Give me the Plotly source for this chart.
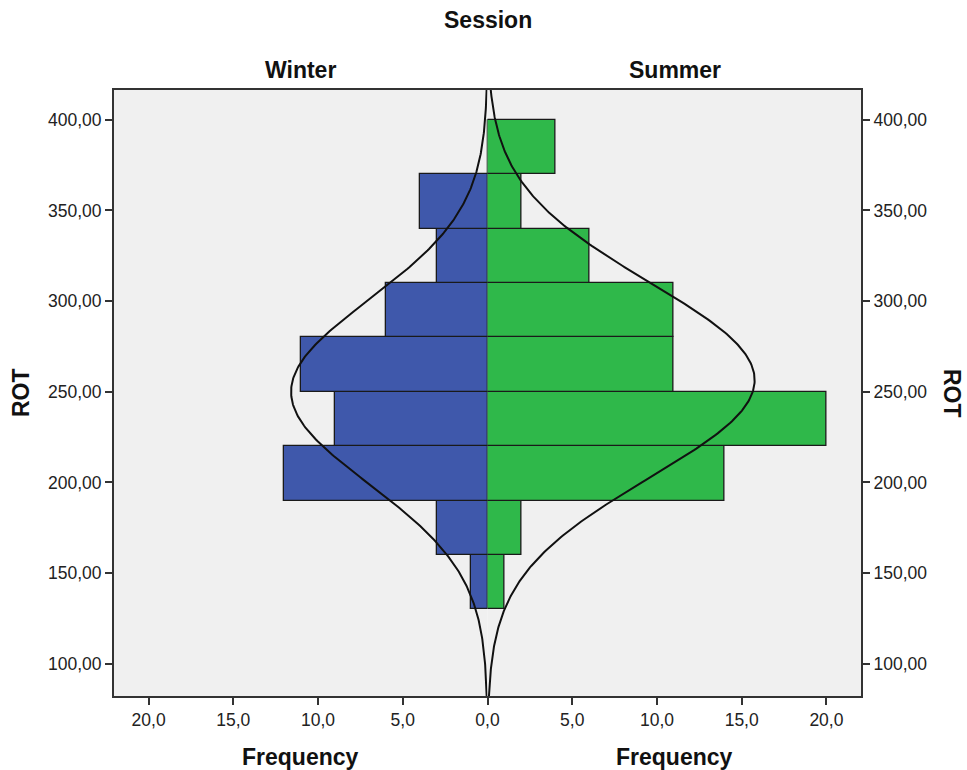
import numpy as np
import plotly.graph_objects as go

# ---- data ----
bin_lower = [130, 160, 190, 220, 250, 280, 310, 340, 370]
bin_width = 30
winter_counts = [1, 3, 12, 9, 11, 6, 3, 4, 0]
summer_counts = [1, 2, 14, 20, 11, 11, 6, 2, 4]
winter_mean, winter_sd = 250.0, 50.6
summer_mean, summer_sd = 256.5, 53.9
y_ticks = [100, 150, 200, 250, 300, 350, 400]
x_ticks_left = [5, 10, 15, 20]
x_ticks_right = [0, 5, 10, 15, 20]

Y_RANGE = [81.7, 417.0]
X_MAX = 22.1

centers = [b + bin_width / 2 for b in bin_lower]
n_w = sum(winter_counts)
n_s = sum(summer_counts)
yy = np.linspace(Y_RANGE[0], Y_RANGE[1], 400)


def normal_curve(mean, sd, n):
    return n * bin_width / (sd * np.sqrt(2 * np.pi)) * np.exp(-0.5 * ((yy - mean) / sd) ** 2)


BLUE = "#3f58ab"
GREEN = "#2fb84a"
EDGE = "#1a1a1a"

fig = go.Figure()
fig.add_trace(go.Bar(x=winter_counts, y=centers, width=bin_width, orientation="h",
                     marker=dict(color=BLUE, line=dict(color=EDGE, width=1.3)),
                     xaxis="x", yaxis="y", showlegend=False))
fig.add_trace(go.Bar(x=summer_counts, y=centers, width=bin_width, orientation="h",
                     marker=dict(color=GREEN, line=dict(color=EDGE, width=1.3)),
                     xaxis="x2", yaxis="y2", showlegend=False))
fig.add_trace(go.Scatter(x=normal_curve(winter_mean, winter_sd, n_w), y=yy, mode="lines",
                         line=dict(color="#111111", width=2), xaxis="x", yaxis="y",
                         showlegend=False))
fig.add_trace(go.Scatter(x=normal_curve(summer_mean, summer_sd, n_s), y=yy, mode="lines",
                         line=dict(color="#111111", width=2), xaxis="x2", yaxis="y2",
                         showlegend=False))

tick_font = dict(family="Liberation Sans, Arial", size=17.5, color="#222222")
title_font = dict(family="Liberation Sans, Arial", size=23, color="#111111")

axis_common = dict(showgrid=False, zeroline=False, ticks="outside", ticklen=7,
                   tickcolor="#333333", tickwidth=1.5, tickfont=tick_font,
                   showline=False, automargin=False)

fig.update_layout(
    width=967, height=770,
    margin=dict(l=113, r=105, t=89, b=73),
    paper_bgcolor="white",
    plot_bgcolor="#f0f0f0",
    separators=",.",
    bargap=0,
    xaxis=dict(domain=[0, 0.5], range=[X_MAX, 0], tickvals=x_ticks_left, tickformat=".1f",
               anchor="y", **axis_common),
    xaxis2=dict(domain=[0.5, 1], range=[0, X_MAX], tickvals=x_ticks_right, tickformat=".1f",
                anchor="y2", **axis_common),
    yaxis=dict(range=Y_RANGE, tickvals=y_ticks, tickformat=".2f", anchor="x",
               **axis_common),
    yaxis2=dict(range=Y_RANGE, tickvals=y_ticks, tickformat=".2f", anchor="x2",
                side="right", matches="y", **axis_common),
    shapes=[dict(type="rect", xref="paper", yref="paper", x0=0, x1=1, y0=0, y1=1,
                 line=dict(color="#333333", width=2), fillcolor="rgba(0,0,0,0)", layer="above")],
)

ann = dict(xref="paper", yref="paper", showarrow=False, font=title_font,
           xanchor="center", yanchor="middle")
fig.add_annotation(text="<b>Session</b>", x=0.5, y=1, yshift=69, **ann)
fig.add_annotation(text="<b>Winter</b>", x=0.25, y=1, yshift=19, **ann)
fig.add_annotation(text="<b>Summer</b>", x=0.75, y=1, yshift=19, **ann)
fig.add_annotation(text="<b>Frequency</b>", x=0.25, y=0, yshift=-60, **ann)
fig.add_annotation(text="<b>Frequency</b>", x=0.75, y=0, yshift=-60, **ann)
fig.add_annotation(text="<b>ROT</b>", x=0, y=0.5, xshift=-92, textangle=-90, **ann)
fig.add_annotation(text="<b>ROT</b>", x=1, y=0.5, xshift=90, textangle=90, **ann)

fig.write_html("out.html")
